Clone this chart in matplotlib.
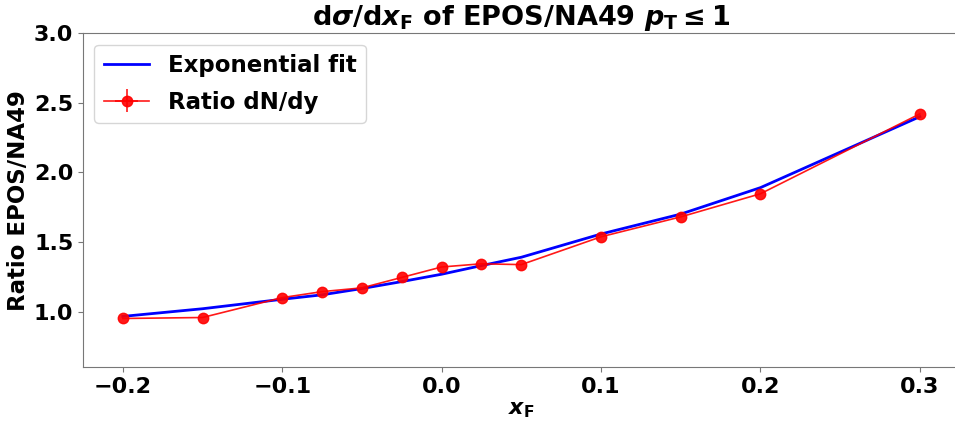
import numpy as np
import matplotlib
matplotlib.use("Agg")
import matplotlib.pyplot as plt

### ---- Fonts: bold everywhere, bold math too
plt.rcParams['font.family'] = 'DejaVu Sans'
plt.rcParams['font.weight'] = 'bold'
plt.rcParams['font.size'] = 16
plt.rcParams['mathtext.fontset'] = 'custom'
plt.rcParams['mathtext.rm'] = 'DejaVu Sans:bold'
plt.rcParams['mathtext.it'] = 'DejaVu Sans:italic:bold'
plt.rcParams['mathtext.bf'] = 'DejaVu Sans:bold'

### ---- Data
xf = [-0.2, -0.15, -0.1, -0.075, -0.05, -0.025, 0.0, 0.025, 0.05, 0.1, 0.15, 0.2, 0.3]
ratio = [0.95, 0.957, 1.10, 1.143, 1.17, 1.245, 1.32, 1.343, 1.337, 1.537, 1.68, 1.846, 2.42]
ratio_err = [0.0] * len(xf)
xf_err = [0.0] * len(xf)
fit = [0.965, 1.02, 1.088, 1.12, 1.165, 1.215, 1.268, 1.33, 1.39, 1.557, 1.70, 1.89, 2.40]

### ---- Plot
fig = plt.figure(figsize=(9.55, 4.25), dpi=100)
ax = fig.add_axes([0.0869, 0.136, 0.918, 0.786])

ax.plot(xf, fit, color="blue", linewidth=2, label="Exponential fit")
ax.errorbar(xf, ratio, yerr=ratio_err, xerr=xf_err, color="red", marker="o",
            markersize=7.5, linewidth=1.2, alpha=0.9, label="Ratio dN/dy")

ax.set_xlim(-0.225, 0.325)
ax.set_ylim(0.6, 3.0)
ax.set_xticks([-0.2, -0.1, 0.0, 0.1, 0.2, 0.3])
ax.set_yticks([1.0, 1.5, 2.0, 2.5, 3.0])

for sp in ax.spines.values():
    sp.set_color("#777777")
ax.tick_params(colors="#777777", labelcolor="black", labelsize=16)

ax.set_title(r"d$\sigma$/d$x_\mathrm{F}$ of EPOS/NA49 $p_\mathrm{T} \leq 1$",
             fontsize=19.5, fontweight="bold")
ax.set_xlabel(r"$x_\mathrm{F}$", fontsize=16, labelpad=2)
ax.set_ylabel("Ratio EPOS/NA49", fontsize=16.5, fontweight="bold", labelpad=3)
ax.legend(loc="upper left", fontsize=16.5, labelspacing=0.6)

fig.savefig("out.png", dpi=100)
